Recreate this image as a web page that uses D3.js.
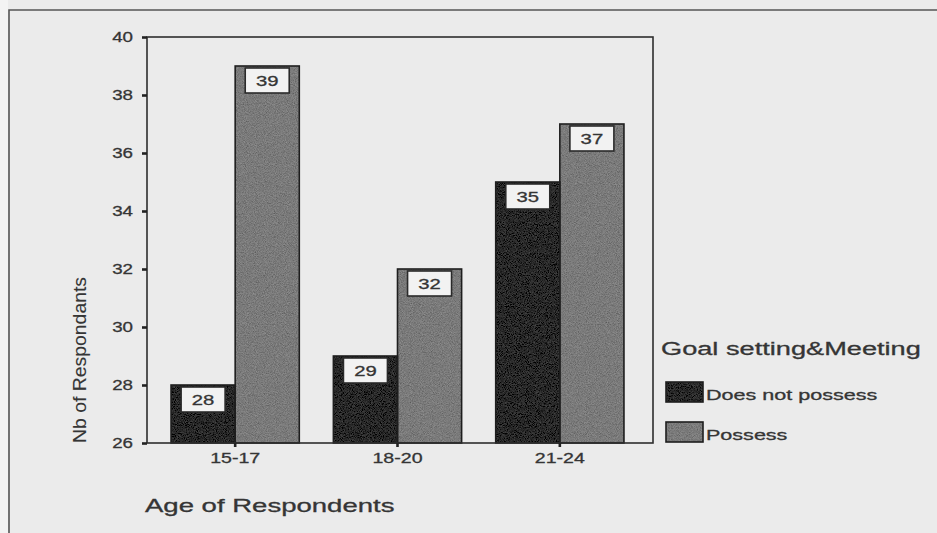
<!DOCTYPE html>
<html>
<head>
<meta charset="utf-8">
<script src="https://cdn.jsdelivr.net/npm/d3@7"></script>
<style>
  html, body { margin: 0; padding: 0; background: #ebebeb; }
  svg { display: block; }
  text { font-family: "Liberation Sans", Arial, Helvetica, sans-serif; fill: #353535; stroke: #353535; stroke-width: 0.3; }
</style>
</head>
<body>
<svg id="chart" width="937" height="533"></svg>
<script>
// Age groups and respondent counts per group
const categories = ["15-17", "18-20", "21-24"];
const seriesNames = ["Does not possess", "Possess"];
const doesNotPossess = [28, 29, 35];
const possess = [39, 32, 37];
const yTicks = [26, 28, 30, 32, 34, 36, 38, 40];
const legendTitle = "Goal setting&Meeting";
const xTitle = "Age of Respondents";
const yTitle = "Nb of Respondants";

const seriesValues = [doesNotPossess, possess];
const rows = categories.map((c, i) => ({
  cat: c,
  vals: seriesNames.map((s, j) => ({ series: s, value: seriesValues[j][i] }))
}));

const svg = d3.select("#chart");
const ink = "#2e2e2e";

// page backdrop and outer frame
svg.append("rect").attr("x", 0).attr("y", 0).attr("width", 937).attr("height", 533).attr("fill", "#ebebeb");
svg.append("rect").attr("x", 0).attr("y", 0).attr("width", 8).attr("height", 533).attr("fill", "#f3f3f3");
svg.append("path").attr("d", "M9,533 V10 H937").attr("fill", "none").attr("stroke", "#555").attr("stroke-width", 1.6);

// fine grain used on the bar fills (lighter on the dark series)
const defs = svg.append("defs");
function grain(id, amount) {
  const f = defs.append("filter").attr("id", id)
    .attr("x", 0).attr("y", 0).attr("width", 1).attr("height", 1);
  f.append("feTurbulence").attr("type", "fractalNoise").attr("baseFrequency", 1.1)
    .attr("numOctaves", 2).attr("seed", 7).attr("result", "noise");
  f.append("feColorMatrix").attr("in", "noise").attr("type", "matrix")
    .attr("values", "1 0 0 0 0  1 0 0 0 0  1 0 0 0 0  0 0 0 0 1").attr("result", "gray");
  f.append("feComposite").attr("in", "SourceGraphic").attr("in2", "gray")
    .attr("operator", "arithmetic").attr("k1", 0).attr("k2", 1).attr("k3", amount).attr("k4", -amount / 2);
}
grain("grainDark", 0.12);
grain("grainLight", 0.24);

const plot = { left: 147, right: 653, top: 37, bottom: 443 };

const y = d3.scaleLinear().domain([26, 40]).range([plot.bottom, plot.top]);
const x = d3.scaleBand().domain(categories).range([154, 641])
  .paddingInner(0.21).paddingOuter(0.105);
const xs = d3.scaleBand().domain(seriesNames).range([0, x.bandwidth()]);
const color = d3.scaleOrdinal().domain(seriesNames).range(["#282828", "#7a7a7a"]);
const texture = d3.scaleOrdinal().domain(seriesNames).range(["url(#grainDark)", "url(#grainLight)"]);

function stretch(sel, sx) {
  sel.each(function () {
    const t = d3.select(this);
    const tx = +t.attr("x") || 0, ty = +t.attr("y") || 0;
    t.attr("x", 0).attr("y", 0).attr("transform", `translate(${tx},${ty}) scale(${sx},1)`);
  });
}

// bars
const groups = svg.append("g").selectAll("g").data(rows).join("g")
  .attr("transform", d => `translate(${x(d.cat)},0)`);

groups.selectAll("rect.fill").data(d => d.vals).join("rect").attr("class", "fill")
  .attr("x", d => xs(d.series)).attr("y", d => y(d.value))
  .attr("width", xs.bandwidth()).attr("height", d => y(26) - y(d.value))
  .attr("fill", d => color(d.series)).attr("filter", d => texture(d.series));
groups.selectAll("rect.edge").data(d => d.vals).join("rect").attr("class", "edge")
  .attr("x", d => xs(d.series)).attr("y", d => y(d.value))
  .attr("width", xs.bandwidth()).attr("height", d => y(26) - y(d.value))
  .attr("fill", "none").attr("stroke", "#1e1e1e").attr("stroke-width", 1.6);

// value labels in boxes near the top of each bar
const boxW = 44, boxH = 25;
const lab = groups.selectAll("g.lab").data(d => d.vals).join("g").attr("class", "lab")
  .attr("transform", d => `translate(${xs(d.series) + xs.bandwidth() / 2},${y(d.value) + 2})`);
lab.append("rect").attr("x", -boxW / 2).attr("y", 0).attr("width", boxW).attr("height", boxH)
  .attr("fill", "#f2f2f2").attr("stroke", "#2a2a2a").attr("stroke-width", 1.6);
lab.append("text").attr("x", 0).attr("y", 18).attr("text-anchor", "middle")
  .attr("font-size", 14.5).text(d => d.value)
  .call(stretch, 1.4);

// plot frame
svg.append("rect").attr("x", plot.left).attr("y", plot.top)
  .attr("width", plot.right - plot.left).attr("height", plot.bottom - plot.top)
  .attr("fill", "none").attr("stroke", ink).attr("stroke-width", 1.6);

// y axis
const yAxis = svg.append("g").attr("transform", `translate(${plot.left},0)`)
  .call(d3.axisLeft(y).tickValues(yTicks).tickSize(5).tickPadding(9).tickFormat(d3.format("d")));
yAxis.select(".domain").remove();
yAxis.selectAll(".tick line").attr("stroke", "#222").attr("stroke-width", 2.6);
yAxis.selectAll(".tick text").attr("font-size", 15).attr("fill", null)
  .attr("font-family", null).call(stretch, 1.25);

// x axis
const xAxis = svg.append("g").attr("transform", `translate(0,${plot.bottom})`)
  .call(d3.axisBottom(x).tickSize(4).tickPadding(6));
xAxis.select(".domain").remove();
xAxis.selectAll(".tick line").attr("stroke", "#222").attr("stroke-width", 2.6);
xAxis.selectAll(".tick text").attr("font-size", 14.5).attr("fill", null)
  .attr("font-family", null).call(stretch, 1.35);

// axis titles
svg.append("text").attr("x", 145).attr("y", 512).attr("font-size", 18)
  .text(xTitle).call(stretch, 1.53);
svg.append("text").attr("font-size", 17.5).attr("text-anchor", "middle")
  .attr("transform", "translate(86,360) rotate(-90) scale(1.11,1)")
  .style("stroke-width", 0.1)
  .text(yTitle);

// legend
svg.append("text").attr("x", 661).attr("y", 355).attr("font-size", 18)
  .text(legendTitle).call(stretch, 1.51);
const leg = svg.append("g").selectAll("g").data(seriesNames).join("g")
  .attr("transform", (d, i) => `translate(666,${382 + i * 40})`);
leg.append("rect").attr("width", 37).attr("height", 20)
  .attr("fill", d => color(d)).attr("filter", d => texture(d));
leg.append("rect").attr("width", 37).attr("height", 20)
  .attr("fill", "none").attr("stroke", "#1e1e1e").attr("stroke-width", 1.6);
leg.append("text").attr("x", 40).attr("y", 18).attr("font-size", 14)
  .text(d => d).call(stretch, 1.54);
</script>
</body>
</html>
